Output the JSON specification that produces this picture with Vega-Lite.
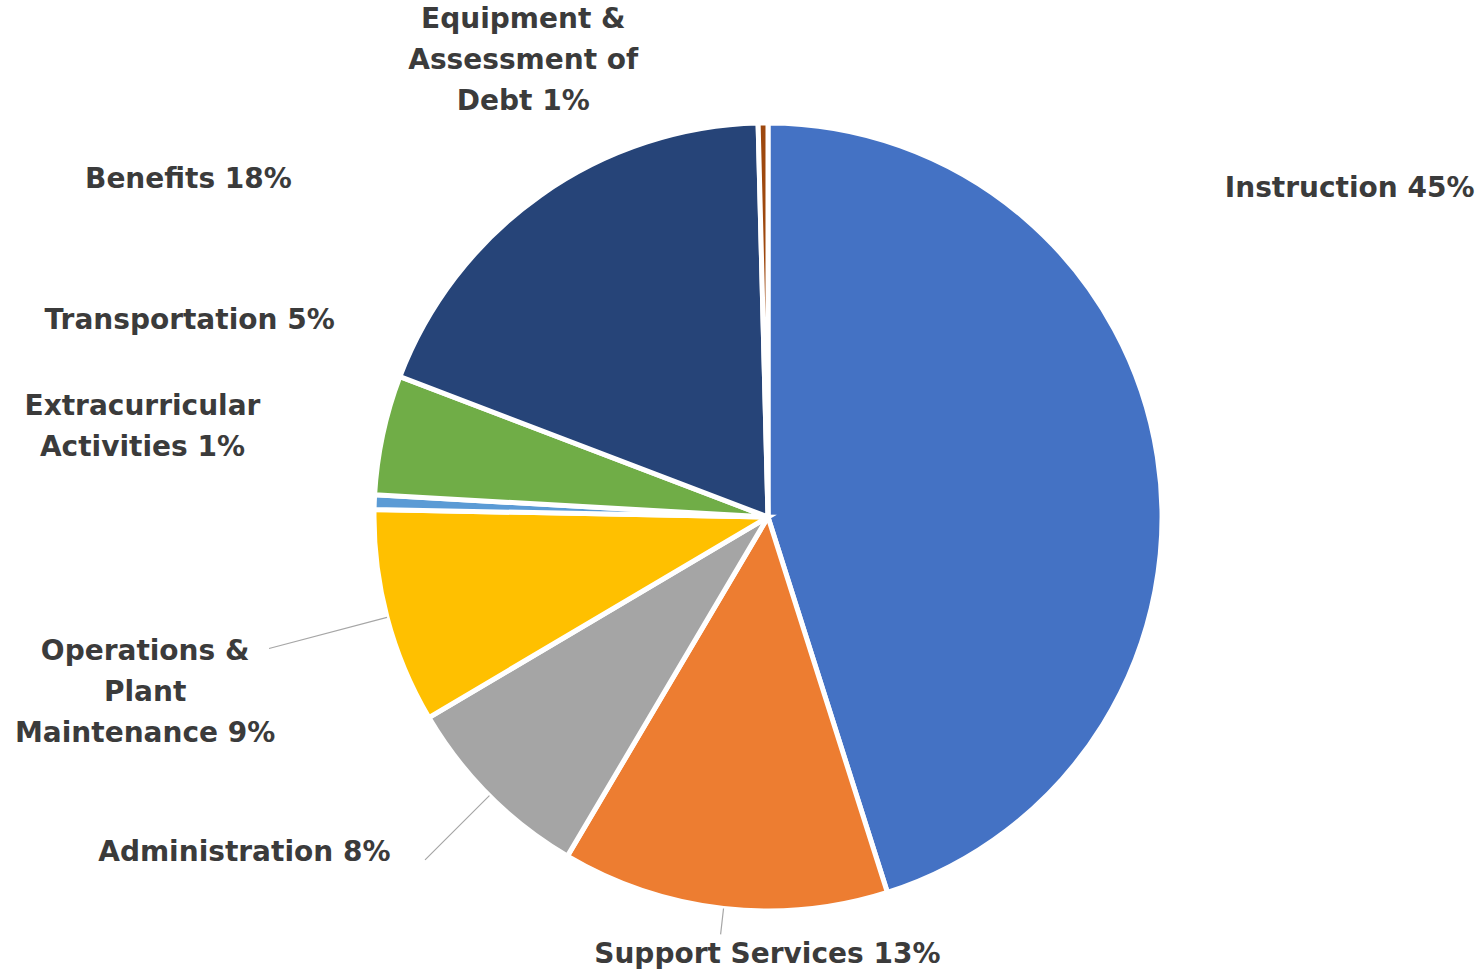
{
  "$schema": "https://vega.github.io/schema/vega-lite/v6.json",
  "width": 1432,
  "height": 914,
  "autosize": "none",
  "padding": {"left": 52, "top": 60, "right": 0, "bottom": 0},
  "background": "white",
  "config": {"view": {"stroke": null}},
  "data": {
    "values": [
      {"category": "Instruction", "pct": 45.1, "ord": 1, "label": "Instruction 45%"},
      {"category": "Support Services", "pct": 13.4, "ord": 2, "label": "Support Services 13%"},
      {"category": "Administration", "pct": 8.0, "ord": 3, "label": "Administration 8%"},
      {"category": "Operations & Plant Maintenance", "pct": 8.8, "ord": 4, "label": "Operations &\nPlant\nMaintenance 9%"},
      {"category": "Extracurricular Activities", "pct": 0.6, "ord": 5, "label": "Extracurricular\nActivities 1%"},
      {"category": "Transportation", "pct": 4.9, "ord": 6, "label": "Transportation 5%"},
      {"category": "Benefits", "pct": 18.8, "ord": 7, "label": "Benefits 18%"},
      {"category": "Equipment & Assessment of Debt", "pct": 0.4, "ord": 8, "label": "Equipment &\nAssessment of\nDebt 1%"}
    ]
  },
  "encoding": {
    "theta": {"field": "pct", "type": "quantitative", "stack": true},
    "order": {"field": "ord", "type": "quantitative"},
    "detail": {"field": "category", "type": "nominal"}
  },
  "layer": [
    {
      "mark": {"type": "arc", "outerRadius": 394, "stroke": "white", "strokeWidth": 5},
      "encoding": {
        "color": {
          "field": "category",
          "type": "nominal",
          "scale": {
            "domain": ["Instruction", "Support Services", "Administration", "Operations & Plant Maintenance", "Extracurricular Activities", "Transportation", "Benefits", "Equipment & Assessment of Debt"],
            "range": ["#4472C4", "#ED7D31", "#A5A5A5", "#FFC000", "#5B9BD5", "#70AD47", "#264478", "#9E480E"]
          },
          "legend": null
        }
      }
    },
    {
      "mark": {"type": "arc", "innerRadius": 394, "outerRadius": 420, "padAngle": 3.14, "filled": false, "stroke": "#a6a6a6", "strokeWidth": 1.2},
      "encoding": {"strokeOpacity": {"condition": {"test": "datum.category === 'Support Services'", "value": 1}, "value": 0}}
    },
    {
      "mark": {"type": "arc", "innerRadius": 394, "outerRadius": 485, "padAngle": 3.14, "filled": false, "stroke": "#a6a6a6", "strokeWidth": 1.2},
      "encoding": {"strokeOpacity": {"condition": {"test": "datum.category === 'Administration'", "value": 1}, "value": 0}}
    },
    {
      "mark": {"type": "arc", "innerRadius": 394, "outerRadius": 516, "padAngle": 3.14, "filled": false, "stroke": "#a6a6a6", "strokeWidth": 1.2},
      "encoding": {"strokeOpacity": {"condition": {"test": "datum.category === 'Operations & Plant Maintenance'", "value": 1}, "value": 0}}
    },
    {
      "mark": {"type": "text", "radius": 440, "dx": 22, "dy": -261, "align": "left", "baseline": "middle", "font": "DejaVu Sans", "fontWeight": "bold", "fontSize": 28, "lineHeight": 41, "lineBreak": "\n", "color": "#3b3b3b"},
      "encoding": {"text": {"condition": {"test": "datum.category === 'Instruction'", "field": "label", "type": "nominal"}, "value": ""}}
    },
    {
      "mark": {"type": "text", "radius": 440, "dx": 49, "dy": 1, "align": "center", "baseline": "middle", "font": "DejaVu Sans", "fontWeight": "bold", "fontSize": 28, "lineHeight": 41, "lineBreak": "\n", "color": "#3b3b3b"},
      "encoding": {"text": {"condition": {"test": "datum.category === 'Support Services'", "field": "label", "type": "nominal"}, "value": ""}}
    },
    {
      "mark": {"type": "text", "radius": 500, "dx": -24, "dy": -18, "align": "right", "baseline": "middle", "font": "DejaVu Sans", "fontWeight": "bold", "fontSize": 28, "lineHeight": 41, "lineBreak": "\n", "color": "#3b3b3b"},
      "encoding": {"text": {"condition": {"test": "datum.category === 'Administration'", "field": "label", "type": "nominal"}, "value": ""}}
    },
    {
      "mark": {"type": "text", "radius": 640, "dx": -4, "dy": -28, "align": "center", "baseline": "middle", "font": "DejaVu Sans", "fontWeight": "bold", "fontSize": 28, "lineHeight": 41, "lineBreak": "\n", "color": "#3b3b3b"},
      "encoding": {"text": {"condition": {"test": "datum.category === 'Operations & Plant Maintenance'", "field": "label", "type": "nominal"}, "value": ""}}
    },
    {
      "mark": {"type": "text", "radius": 626, "dx": 0, "dy": -86, "align": "center", "baseline": "middle", "font": "DejaVu Sans", "fontWeight": "bold", "fontSize": 28, "lineHeight": 41, "lineBreak": "\n", "color": "#3b3b3b"},
      "encoding": {"text": {"condition": {"test": "datum.category === 'Extracurricular Activities'", "field": "label", "type": "nominal"}, "value": ""}}
    },
    {
      "mark": {"type": "text", "radius": 440, "dx": -3, "dy": -104, "align": "right", "baseline": "middle", "font": "DejaVu Sans", "fontWeight": "bold", "fontSize": 28, "lineHeight": 41, "lineBreak": "\n", "color": "#3b3b3b"},
      "encoding": {"text": {"condition": {"test": "datum.category === 'Transportation'", "field": "label", "type": "nominal"}, "value": ""}}
    },
    {
      "mark": {"type": "text", "radius": 440, "dx": -222, "dy": 22, "align": "right", "baseline": "middle", "font": "DejaVu Sans", "fontWeight": "bold", "fontSize": 28, "lineHeight": 41, "lineBreak": "\n", "color": "#3b3b3b"},
      "encoding": {"text": {"condition": {"test": "datum.category === 'Benefits'", "field": "label", "type": "nominal"}, "value": ""}}
    },
    {
      "mark": {"type": "text", "radius": 456, "dx": -239, "dy": -41, "align": "center", "baseline": "middle", "font": "DejaVu Sans", "fontWeight": "bold", "fontSize": 28, "lineHeight": 41, "lineBreak": "\n", "color": "#3b3b3b"},
      "encoding": {"text": {"condition": {"test": "datum.category === 'Equipment & Assessment of Debt'", "field": "label", "type": "nominal"}, "value": ""}}
    }
  ]
}
